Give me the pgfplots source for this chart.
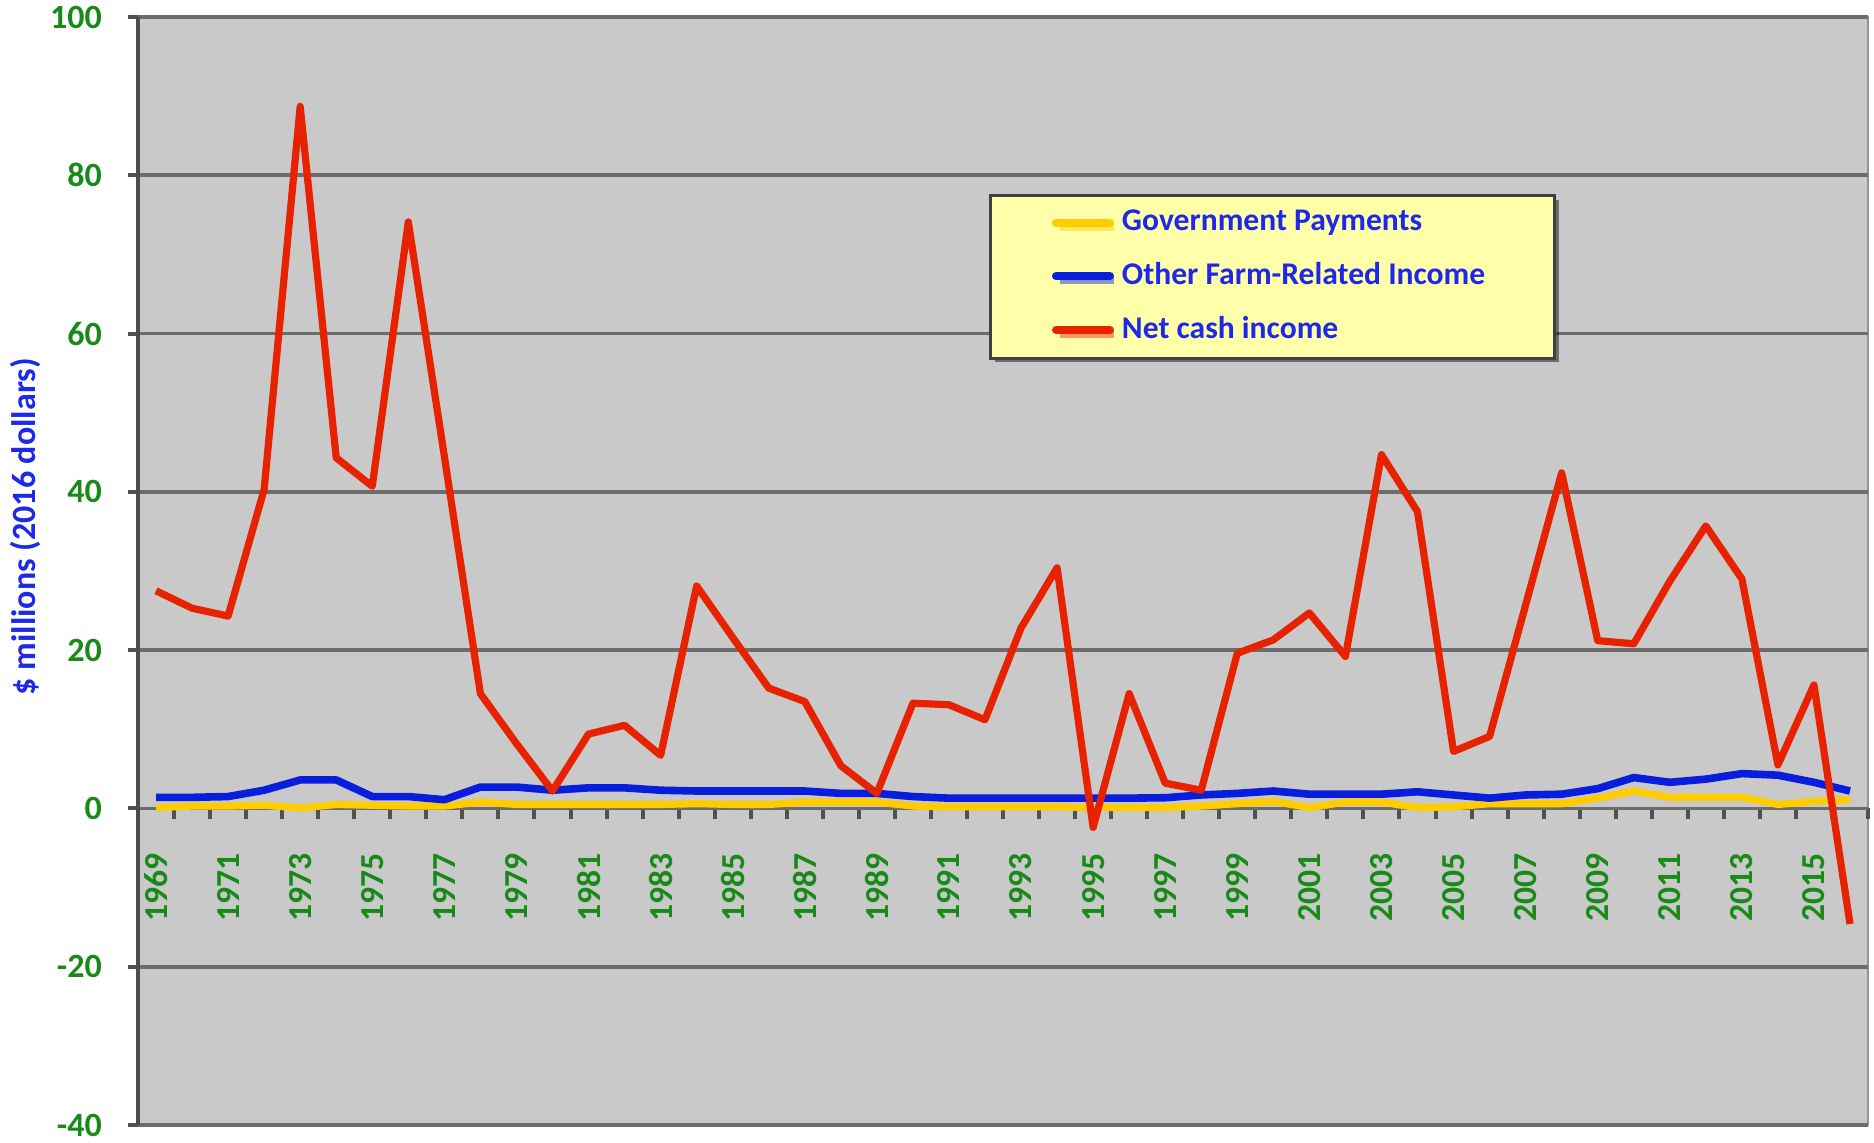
\documentclass[border=0pt]{standalone}
\usepackage{pgfplots}
\pgfplotsset{compat=1.18}
\usepackage{pgfplotstable}
\usepackage{fontspec}
\setmainfont{Carlito}
\usetikzlibrary{shadows}
\definecolor{bggray}{RGB}{201,201,201}
\definecolor{gridgray}{RGB}{108,108,108}
\definecolor{netred}{RGB}{230,34,0}
\definecolor{othblue}{RGB}{8,30,220}
\definecolor{govyellow}{RGB}{255,204,0}
\definecolor{tickgreen}{RGB}{24,138,24}
\definecolor{txtblue}{RGB}{30,40,232}
\definecolor{legyellow}{RGB}{255,255,170}

\pgfplotstableread{
idx gov other net
0 0.1 1.4 27.5
1 0.3 1.4 25.3
2 0.3 1.5 24.3
3 0.4 2.3 40.3
4 0.05 3.6 88.7
5 0.5 3.6 44.3
6 0.4 1.5 40.7
7 0.3 1.5 74.1
8 0.3 1.1 44.5
9 0.8 2.7 14.5
10 0.5 2.7 8.2
11 0.5 2.3 2.2
12 0.5 2.6 9.4
13 0.5 2.6 10.5
14 0.5 2.3 6.7
15 0.6 2.2 28.1
16 0.5 2.2 21.6
17 0.5 2.2 15.2
18 0.8 2.2 13.5
19 0.8 1.9 5.4
20 0.8 1.9 1.9
21 0.3 1.5 13.3
22 0.2 1.3 13.1
23 0.2 1.3 11.2
24 0.2 1.3 22.8
25 0.2 1.3 30.4
26 0.1 1.3 -2.4
27 0.1 1.3 14.5
28 0.1 1.35 3.2
29 0.3 1.7 2.3
30 0.6 1.9 19.6
31 0.9 2.2 21.3
32 0.1 1.8 24.7
33 0.8 1.8 19.2
34 0.8 1.8 44.7
35 0.1 2.1 37.5
36 0.2 1.7 7.2
37 0.6 1.3 9.1
38 0.6 1.7 25.7
39 0.6 1.8 42.4
40 1.3 2.5 21.2
41 2.2 3.9 20.8
42 1.4 3.3 28.7
43 1.4 3.7 35.7
44 1.4 4.4 29.0
45 0.5 4.2 5.5
46 0.9 3.3 15.6
47 1.1 2.2 -14.6
}\datatable

\begin{document}
\begin{tikzpicture}
\begin{axis}[
  scale only axis, width=432.5pt, height=277pt,
  xmin=-0.5, xmax=47.5, ymin=-40, ymax=100,
  axis x line=middle, axis y line=left,
  hide obscured x ticks=false, hide obscured y ticks=false,
  x axis line style={-, draw=gridgray, line width=0.9pt},
  y axis line style={-, draw=gridgray!70!black, line width=1pt},
  axis background/.style={fill=bggray, draw=gray!85, line width=0.6pt},
  ytick={-40,-20,...,100},
  minor ytick={-40,-20,...,100},
  ymajorgrids, grid style={draw=gridgray, line width=0.9pt},
  tick align=outside,
  tick style={draw=gridgray!75!black, line width=1pt},
  major tick length=0pt, minor tick length=2.6pt,
  xtick={0,2,...,46},
  xticklabels={1969,1971,1973,1975,1977,1979,1981,1983,1985,1987,1989,1991,1993,1995,1997,1999,2001,2003,2005,2007,2009,2011,2013,2015},
  minor xtick={-0.5,0.5,...,47.5},
  xticklabel style={rotate=90, anchor=east, xshift=-7.8pt, font=\bfseries\fontsize{8.4}{9}\selectfont, text=tickgreen},
  yticklabel style={xshift=-5.5pt, font=\bfseries\fontsize{8.5}{9}\selectfont, text=tickgreen},
  /pgf/number format/assume math mode=true,
  ylabel={\$ millions (2016 dollars)},
  ylabel style={at={(axis description cs:-0.065,0.54)}, anchor=center, font=\bfseries\fontsize{8.5}{9}\selectfont, text=txtblue},
  legend style={at={(axis description cs:0.492,0.840)}, anchor=north west, fill=legyellow, draw=black!75, line width=0.8pt, text=txtblue, font=\bfseries\fontsize{7.9}{9}\selectfont, inner xsep=15.3pt, inner ysep=1.5pt, row sep=2.4pt, drop shadow={shadow xshift=1pt, shadow yshift=-1pt, opacity=0.45, fill=black}},
  legend cell align=left,
  legend image code/.code={\draw[#1, line width=2pt, line cap=round] (0pt,0pt) -- (13.5pt,0pt);},
]
\addplot[govyellow, line width=1.8pt, line join=round] table[x=idx, y=gov]{\datatable};
\addlegendentry{Government Payments}
\addplot[othblue, line width=1.9pt, line join=round] table[x=idx, y=other]{\datatable};
\addlegendentry{Other Farm-Related Income}
\addplot[netred, line width=1.8pt, line join=round] table[x=idx, y=net]{\datatable};
\addlegendentry{Net cash income}
\end{axis}
\pgfresetboundingbox
\path ([xshift=-34.5pt,yshift=4.25pt]current axis.north west) ([xshift=1.5pt,yshift=-4.25pt]current axis.south east);
\end{tikzpicture}
\end{document}
